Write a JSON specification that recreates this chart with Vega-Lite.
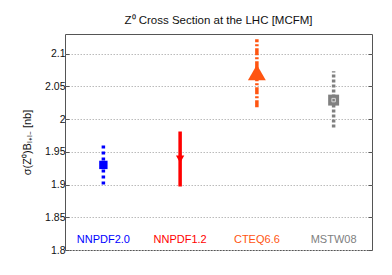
{
  "$schema": "https://vega.github.io/schema/vega-lite/v6.json",
  "autosize": "none",
  "width": 307,
  "height": 216,
  "padding": {"left": 65, "top": 34, "right": 20, "bottom": 25},
  "background": "white",
  "config": {
    "font": "Liberation Sans",
    "view": {"stroke": "#555", "strokeWidth": 1}
  },
  "title": {"text": "Z⁰ Cross Section at the LHC [MCFM]", "fontSize": 11.5, "fontWeight": "normal", "color": "#111", "offset": 8, "font": "Liberation Sans"},
  "data": {"values": [
    {"name": "NNPDF2.0", "center": 1.93, "lo": 1.90, "hi": 1.96},
    {"name": "NNPDF1.2", "center": 1.939, "lo": 1.897, "hi": 1.981},
    {"name": "CTEQ6.6", "center": 2.071, "lo": 2.018, "hi": 2.122},
    {"name": "MSTW08", "center": 2.029, "lo": 1.987, "hi": 2.073}
  ]},
  "encoding": {
    "x": {"field": "name", "type": "nominal", "sort": ["NNPDF2.0", "NNPDF1.2", "CTEQ6.6", "MSTW08"],
      "scale": {"type": "point", "padding": 0.5}, "axis": null},
    "color": {"field": "name", "type": "nominal", "legend": null,
      "scale": {"domain": ["NNPDF2.0", "NNPDF1.2", "CTEQ6.6", "MSTW08"], "range": ["#0000ff", "#ff0000", "#ff5511", "#808080"]}}
  },
  "layer": [
    {
      "mark": {"type": "rule", "strokeWidth": 3.5},
      "encoding": {
        "y": {"field": "lo", "type": "quantitative", "scale": {"domain": [1.8, 2.13], "nice": false, "zero": false},
          "axis": {"values": [1.8, 1.85, 1.9, 1.95, 2.0, 2.05, 2.1], "format": ".2~f", "title": "σ(Z⁰)Bₗ₊ₗ₋ [nb]",
            "titleFontSize": 11, "titleFontWeight": "normal", "titleColor": "#111", "titlePadding": 12,
            "labelFontSize": 10.5, "labelColor": "#111", "labelPadding": 4,
            "tickSize": -4, "tickColor": "#555", "domain": false,
            "grid": true, "gridColor": "#bbbbbb", "gridDash": [1.5, 1.5], "gridWidth": 1}},
        "y2": {"field": "hi"},
        "strokeDash": {"field": "name", "type": "nominal", "legend": null,
          "scale": {"domain": ["NNPDF2.0", "NNPDF1.2", "CTEQ6.6", "MSTW08"], "range": [[3, 3], [1, 0], [7, 2, 2, 2], [3, 2]]}}
      }
    },
    {
      "mark": {"type": "rule", "opacity": 0},
      "encoding": {
        "y": {"field": "lo", "type": "quantitative",
          "axis": {"orient": "right", "values": [1.8, 1.85, 1.9, 1.95, 2.0, 2.05, 2.1], "labels": false, "title": null,
            "tickSize": -4, "tickColor": "#555", "domain": false, "grid": false}},
        "y2": {"field": "hi"}
      }
    },
    {
      "transform": [{"filter": "datum.name === 'NNPDF2.0'"}],
      "mark": {"type": "square", "filled": true, "opacity": 1, "size": 70},
      "encoding": {"y": {"field": "center", "type": "quantitative", "axis": null}}
    },
    {
      "transform": [{"filter": "datum.name === 'NNPDF1.2'"}],
      "mark": {"type": "point", "shape": "triangle-down", "filled": true, "opacity": 1, "size": 70},
      "encoding": {"y": {"field": "center", "type": "quantitative", "axis": null}}
    },
    {
      "transform": [{"filter": "datum.name === 'CTEQ6.6'"}],
      "mark": {"type": "point", "shape": "triangle-up", "filled": true, "opacity": 1, "size": 320},
      "encoding": {"y": {"field": "center", "type": "quantitative", "axis": null}}
    },
    {
      "transform": [{"filter": "datum.name === 'MSTW08'"}],
      "mark": {"type": "square", "filled": true, "opacity": 1, "size": 120},
      "encoding": {"y": {"field": "center", "type": "quantitative", "axis": null}}
    },
    {
      "transform": [{"filter": "datum.name === 'MSTW08'"}],
      "mark": {"type": "square", "filled": false, "strokeWidth": 1, "size": 12, "opacity": 1},
      "encoding": {"y": {"field": "center", "type": "quantitative", "axis": null}, "color": {"value": "#d8d8d8"}}
    },
    {
      "mark": {"type": "text", "fontSize": 11, "baseline": "middle", "align": "center"},
      "encoding": {
        "y": {"datum": 1.815, "type": "quantitative", "axis": null},
        "text": {"field": "name"}
      }
    }
  ],
  "resolve": {"axis": {"y": "independent"}}
}
